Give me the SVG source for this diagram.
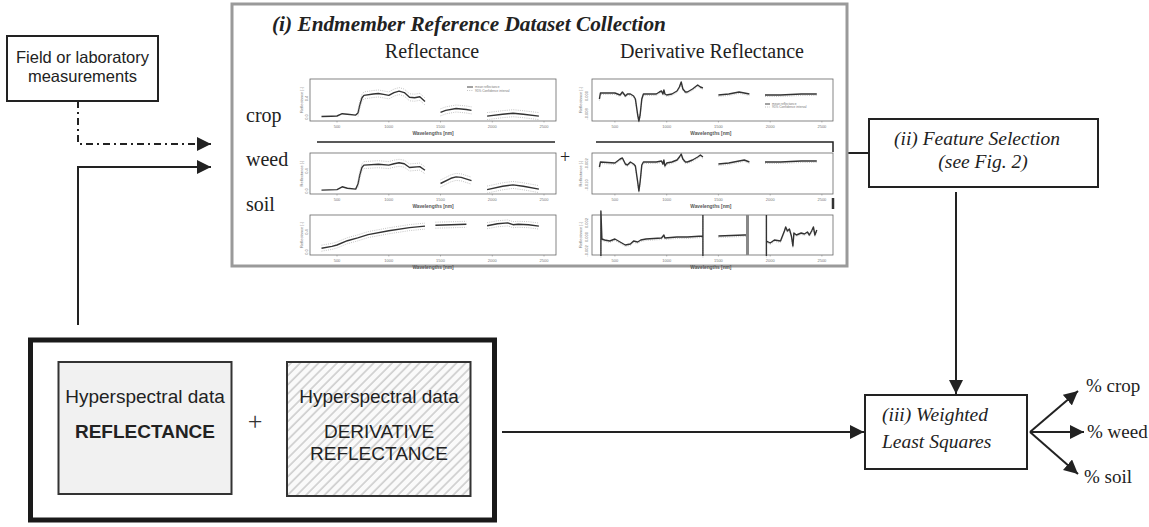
<svg xmlns="http://www.w3.org/2000/svg" width="1149" height="527" viewBox="0 0 1149 527">
<style>
.sans{font-family:"Liberation Sans",Arial,sans-serif}
.serif{font-family:"Liberation Serif","Times New Roman",serif}
.box{fill:#fff;stroke:#222;stroke-width:2}
.lbl{font-size:16.5px;fill:#222}
.hs{font-size:19px;fill:#222}
.step{font-size:19.5px;font-style:italic;fill:#222}
.row{font-size:20px;fill:#222}
.head{font-size:20px;fill:#222}
.out{font-size:19px;fill:#222}
.conn{fill:none;stroke:#222;stroke-width:2}
.frame{fill:#fff;stroke:#666;stroke-width:0.8}
.mean{fill:none;stroke:#333;stroke-width:1.4;stroke-linejoin:round}
.ci{fill:none;stroke:#aaa;stroke-width:0.7;stroke-dasharray:1 1.2}
.tick{font-size:4px;fill:#777}
.axt{font-size:4.8px;font-weight:bold;fill:#555}
.leg{font-size:3.2px;fill:#777}
.rule{fill:none;stroke:#222;stroke-width:1.5}
</style>
<defs>
  <marker id="arrow" viewBox="0 0 14 14" refX="14" refY="7" markerWidth="14" markerHeight="14" markerUnits="userSpaceOnUse" orient="auto">
    <path d="M0,0 L14,7 L0,14 z" fill="#222"/>
  </marker>
  <pattern id="hatch" width="6.5" height="6.5" patternUnits="userSpaceOnUse" patternTransform="rotate(45)">
    <rect width="6.5" height="6.5" fill="#fafafa"/>
    <line x1="1" y1="0" x2="1" y2="6.5" stroke="#c6c6c6" stroke-width="1.4"/>
  </pattern>

  <!-- wavelength axis: origin at 350 nm, 0.1035 px per nm -->
  <g id="xax">
    <path d="M15.5,0v1.5M67.3,0v1.5M119,0v1.5M170.8,0v1.5M222.5,0v1.5" stroke="#777" stroke-width="0.5"/>
    <g class="sans tick" text-anchor="middle">
      <text x="15.5" y="7">500</text>
      <text x="67.3" y="7">1000</text>
      <text x="119" y="7">1500</text>
      <text x="170.8" y="7">2000</text>
      <text x="222.5" y="7">2500</text>
    </g>
    <text class="sans axt" x="111.5" y="13.5" text-anchor="middle">Wavelengths [nm]</text>
  </g>

  <!-- reflectance spectra (x: nm offset, y: -reflectance*47) -->
  <path id="cropLo" d="M0,-0.5 L10,-0.8 L15.5,-1 L20.7,-3.3 L25.9,-2.8 L34.2,-1.9 L36.5,-4"/>
  <path id="cropHi" d="M36.5,-4 L38.3,-12 L40.4,-19 L42.4,-21.6 L51.8,-23 L56.9,-23.5 L62.1,-22.6 L67.3,-21.6 L72.5,-24.4 L77.6,-25.9 L82.8,-24.4 L88,-19.7 L93.1,-19.3 L98.3,-20.2 L103.5,-15.5 M119,-4.7 L124.2,-6.6 L134.6,-8.5 L144.9,-7.5 L150,-6.6 M165.6,-0.9 L181.1,-2.8 L191.5,-3.8 L201.8,-2.8 L217.4,-0.9"/>
  <path id="weedLo" d="M0,-0.9 L15.5,-1.4 L20.7,-4.2 L25.9,-2.8 L34.2,-1.9 L36.5,-7"/>
  <path id="weedHi" d="M36.5,-7 L38.3,-16 L40.4,-23.5 L42.4,-25.9 L56.9,-26.8 L67.3,-25.9 L72.5,-27.3 L77.6,-28.2 L82.8,-27.3 L88,-23.5 L98.3,-24.4 L103.5,-20.7 M119,-7.5 L129.4,-12.7 L134.6,-14.1 L139.7,-13.6 L150,-10.3 M165.6,-1.4 L181.1,-4.7 L191.5,-6.1 L201.8,-4.7 L217.4,-1.9"/>
  <path id="soilR" d="M0,-3.8 L10.4,-5.6 L15.5,-7 L25.9,-11.3 L36.2,-14.1 L46.6,-17.4 L67.3,-21.2 L88,-24.4 L103.5,-25.9 M113.9,-26.8 L144.9,-27.7 M165.6,-26.3 L176,-28.2 L186.3,-29.1 L191.5,-27.3 L196.7,-27.7 L207,-27.3 L217.4,-25.9"/>

  <!-- first-derivative spectra (y relative to zero line) -->
  <path id="cropD" d="M0,4 L1,-2 L15.5,-2 L20.7,0 L23,-3 L26,1 L28,-1 L31,-1 L34.2,1 L36,4 L38.3,20 L39.5,26 L40.7,20 L42.4,4 L44,-1 L56.9,-1 L60,-3 L62.1,-4 L63.5,-1 L64.5,-5 L65.5,-1 L67.3,0 L72.5,-1 L77.6,-4 L80,-8 L81.8,-13 L83.5,-6 L86,-3 L88,-3 L93.1,-6 L98.3,-10 L101,-8 L103.5,-7 M119,0 L129.4,-1 L139.7,-3 L144.9,-2 L150,-1 M165.6,0 L181.1,0 L201.8,-1 L217.4,-1"/>
  <path id="weedD" d="M0,5 L1,0 L15.5,1 L20.7,-3 L23,-4 L26,2 L28,3 L31,0 L34.2,2 L36,4 L38.3,20 L39.5,29 L40.7,20 L42.4,3 L44,0 L56.9,0 L62.1,-1 L63.5,2 L64.5,-2 L65.5,4 L67.3,1 L72.5,0 L77.6,-2 L80,-5 L81.8,-8 L83.5,-3 L86,0 L88,0 L93.1,-2 L98.3,-5 L101,-7 L103.5,-5 M119,2 L129.4,1 L139.7,-1 L144.9,-2 L150,0 M165.6,0 L181.1,0 L201.8,-1 L217.4,-1"/>
  <path id="soilD" d="M1.5,15 L1.5,-30 L2.5,-2 L5.2,-1 L10.4,0 L15.5,-2 L20.7,1 L25.9,4 L31,3 L34.2,0 L38.3,1 L41.4,-1 L46.6,-2 L62.1,-3 L64.5,-6 L65.5,-3 L77.6,-4 L88,-4 L103.5,-5 M103.5,15 V-26 M119,-5 L144.9,-6 L149,-6 M167,15 V-26 M167,0 L170.8,2 L175,-1 L181.1,0 L185,-10 L186.3,-14 L188,-10 L190,-12 L192,-5 L193.5,5 L194.5,-8 L197,-6 L201.8,-8 L205,-7 L208,-9 L210,-6 L212.2,-10 L214,-14 L215.5,-6 L217.4,-11"/>
</defs>

<rect width="1149" height="527" fill="#fff"/>

<!-- connectors -->
<g id="connectors">
  <path class="conn" d="M78,101 V144 H211" stroke-dasharray="7 4 2 4" marker-end="url(#arrow)"/>
  <path class="conn" d="M78,325 V167 H211" marker-end="url(#arrow)"/>
  <path class="conn" d="M847,153 H869"/>
  <path class="conn" d="M956,192 V394" marker-end="url(#arrow)"/>
  <path class="conn" d="M502,432 H864" marker-end="url(#arrow)"/>
  <path class="conn" d="M1030,432 L1078,391" marker-end="url(#arrow)"/>
  <path class="conn" d="M1030,432 H1084" marker-end="url(#arrow)"/>
  <path class="conn" d="M1030,432 L1078,474" marker-end="url(#arrow)"/>
</g>

<!-- field / lab measurements -->
<g id="field-measurements">
  <rect class="box" x="7" y="36" width="151" height="65"/>
  <text class="sans lbl" x="82.5" y="63" text-anchor="middle">Field or laboratory</text>
  <text class="sans lbl" x="82.5" y="82" text-anchor="middle">measurements</text>
</g>

<!-- (i) endmember reference dataset -->
<g id="endmember-dataset">
  <rect x="232" y="4" width="615" height="262" fill="#fff" stroke="#9a9a9a" stroke-width="3"/>
  <text class="serif" x="272" y="31" font-size="21.3" font-weight="bold" font-style="italic" fill="#222">(i) Endmember Reference Dataset Collection</text>
  <text class="serif head" x="432" y="58" text-anchor="middle">Reflectance</text>
  <text class="serif head" x="712" y="58" text-anchor="middle">Derivative Reflectance</text>

  <text class="serif row" x="246" y="122">crop</text>
  <text class="serif row" x="246" y="166">weed</text>
  <text class="serif row" x="246" y="211">soil</text>
  <text class="serif" x="565" y="163" font-size="18" text-anchor="middle" fill="#222">+</text>

  <path class="rule" d="M317,142 H555"/>
  <path class="rule" d="M596,142 H833 V152"/>
  <path d="M833,198 V209" stroke="#333" stroke-width="2.5"/>

  <!-- crop reflectance -->
  <g id="chart-crop-refl">
    <rect class="frame" x="310" y="79" width="246" height="42"/>
    <g transform="translate(321.5,117)">
      <use href="#cropLo" class="mean"/>
      <use href="#cropHi" class="mean"/>
      <use href="#cropHi" class="ci" transform="translate(0,-3.5)"/>
      <use href="#cropHi" class="ci" transform="translate(0,3.5)"/>
    </g>
    <use href="#xax" transform="translate(321.5,121)"/>
    <text class="sans tick" transform="translate(303,100) rotate(-90)" text-anchor="middle">Reflectance [-]</text>
    <text class="sans tick" transform="translate(308,117) rotate(-90)" text-anchor="middle">0.0</text>
    <text class="sans tick" transform="translate(308,98.5) rotate(-90)" text-anchor="middle">0.4</text>
    <line x1="467" y1="87" x2="473" y2="87" stroke="#444" stroke-width="1"/>
    <line class="ci" x1="467" y1="90.5" x2="473" y2="90.5"/>
    <text class="sans leg" x="475" y="88.2">mean reflectance</text>
    <text class="sans leg" x="475" y="91.7">95% Confidence interval</text>
  </g>

  <!-- weed reflectance -->
  <g id="chart-weed-refl">
    <rect class="frame" x="310" y="153" width="246" height="41"/>
    <g transform="translate(321.5,191)">
      <use href="#weedLo" class="mean"/>
      <use href="#weedHi" class="mean"/>
      <use href="#weedHi" class="ci" transform="translate(0,-3.5)"/>
      <use href="#weedHi" class="ci" transform="translate(0,3.5)"/>
    </g>
    <use href="#xax" transform="translate(321.5,194)"/>
    <text class="sans tick" transform="translate(303,173.5) rotate(-90)" text-anchor="middle">Reflectance [-]</text>
    <text class="sans tick" transform="translate(308,191) rotate(-90)" text-anchor="middle">0.0</text>
    <text class="sans tick" transform="translate(308,171) rotate(-90)" text-anchor="middle">0.4</text>
  </g>

  <!-- soil reflectance -->
  <g id="chart-soil-refl">
    <rect class="frame" x="310" y="215" width="246" height="40"/>
    <g transform="translate(321.5,252)">
      <use href="#soilR" class="mean"/>
      <use href="#soilR" class="ci" transform="translate(0,-3)"/>
      <use href="#soilR" class="ci" transform="translate(0,3)"/>
    </g>
    <use href="#xax" transform="translate(321.5,255)"/>
    <text class="sans tick" transform="translate(303,235) rotate(-90)" text-anchor="middle">Reflectance [-]</text>
    <text class="sans tick" transform="translate(308,252) rotate(-90)" text-anchor="middle">0.0</text>
    <text class="sans tick" transform="translate(308,232) rotate(-90)" text-anchor="middle">0.4</text>
  </g>

  <!-- crop derivative -->
  <g id="chart-crop-deriv">
    <rect class="frame" x="592" y="79" width="241" height="42"/>
    <g transform="translate(599.4,95)">
      <use href="#cropD" class="ci" transform="translate(0,1.5)"/>
      <use href="#cropD" class="mean"/>
    </g>
    <use href="#xax" transform="translate(599.4,121)"/>
    <text class="sans tick" transform="translate(582,100) rotate(-90)" text-anchor="middle">Reflectance [-]</text>
    <text class="sans tick" transform="translate(588,96) rotate(-90)" text-anchor="middle">0.000</text>
    <text class="sans tick" transform="translate(588,114) rotate(-90)" text-anchor="middle">-0.008</text>
    <line x1="765" y1="104" x2="770" y2="104" stroke="#444" stroke-width="1"/>
    <line class="ci" x1="765" y1="107" x2="770" y2="107"/>
    <text class="sans leg" x="772" y="105.2">mean reflectance</text>
    <text class="sans leg" x="772" y="108.2">95% Confidence interval</text>
  </g>

  <!-- weed derivative -->
  <g id="chart-weed-deriv">
    <rect class="frame" x="592" y="153" width="241" height="41"/>
    <g transform="translate(599.4,162)">
      <use href="#weedD" class="ci" transform="translate(0,1.5)"/>
      <use href="#weedD" class="mean"/>
    </g>
    <use href="#xax" transform="translate(599.4,194)"/>
    <text class="sans tick" transform="translate(582,173.5) rotate(-90)" text-anchor="middle">Reflectance [-]</text>
    <text class="sans tick" transform="translate(588,164) rotate(-90)" text-anchor="middle">-0.002</text>
    <text class="sans tick" transform="translate(588,185) rotate(-90)" text-anchor="middle">-0.010</text>
  </g>

  <!-- soil derivative -->
  <g id="chart-soil-deriv">
    <rect class="frame" x="592" y="215" width="241" height="40"/>
    <g transform="translate(599.4,241)">
      <use href="#soilD" class="ci" transform="translate(0,1.5)"/>
      <use href="#soilD" class="mean"/>
    </g>
    <rect x="746" y="215" width="3" height="40" fill="#888"/>
    <use href="#xax" transform="translate(599.4,255)"/>
    <text class="sans tick" transform="translate(582,235) rotate(-90)" text-anchor="middle">Reflectance [-]</text>
    <text class="sans tick" transform="translate(588,223) rotate(-90)" text-anchor="middle">0.002</text>
    <text class="sans tick" transform="translate(588,237) rotate(-90)" text-anchor="middle">0.000</text>
    <text class="sans tick" transform="translate(588,251) rotate(-90)" text-anchor="middle">-0.002</text>
  </g>
</g>

<!-- (ii) feature selection -->
<g id="feature-selection">
  <rect class="box" x="869" y="119" width="229" height="68"/>
  <text class="serif step" x="977" y="145" text-anchor="middle">(ii) Feature Selection</text>
  <text class="serif step" x="983" y="168" text-anchor="middle">(see Fig. 2)</text>
</g>

<!-- hyperspectral input data -->
<g id="hyperspectral-data">
  <rect x="30.5" y="340" width="464" height="180" fill="#fff" stroke="#1a1a1a" stroke-width="5"/>
  <g id="reflectance-data">
    <rect x="58.5" y="362" width="173" height="132" fill="#f1f1f1" stroke="#333" stroke-width="2"/>
    <text class="sans hs" x="145" y="402.5" text-anchor="middle">Hyperspectral data</text>
    <text class="sans hs" x="145" y="438" text-anchor="middle" font-weight="bold">REFLECTANCE</text>
  </g>
  <text class="serif" x="255" y="430" font-size="26" text-anchor="middle" fill="#333">+</text>
  <g id="derivative-data">
    <rect x="287" y="362" width="183.5" height="134" fill="url(#hatch)" stroke="#333" stroke-width="2"/>
    <text class="sans hs" x="379" y="402.5" text-anchor="middle">Hyperspectral data</text>
    <text class="sans hs" x="379" y="438" text-anchor="middle">DERIVATIVE</text>
    <text class="sans hs" x="379" y="460" text-anchor="middle">REFLECTANCE</text>
  </g>
</g>

<!-- (iii) weighted least squares -->
<g id="weighted-least-squares">
  <rect class="box" x="865" y="395" width="162" height="74"/>
  <text class="serif step" x="882" y="421">(iii) Weighted</text>
  <text class="serif step" x="882" y="448">Least Squares</text>
</g>

<!-- abundance outputs -->
<g id="outputs">
  <text class="serif out" x="1086" y="392">% crop</text>
  <text class="serif out" x="1087" y="438">% weed</text>
  <text class="serif out" x="1084" y="483">% soil</text>
</g>
</svg>
